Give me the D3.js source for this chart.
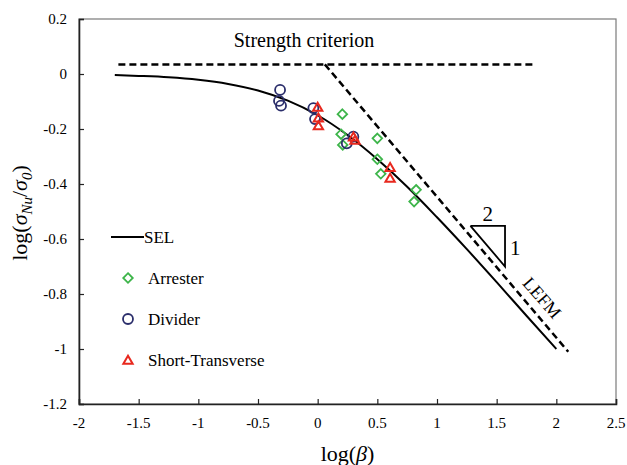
<!DOCTYPE html>
<html>
<head>
<meta charset="utf-8">
<script src="https://cdn.jsdelivr.net/npm/d3@7"></script>
<style>
  body { margin: 0; background: #fff; }
  svg text { font-family: "Liberation Serif", "Times New Roman", "DejaVu Serif", serif; fill: #000; }
</style>
</head>
<body>
<div id="chart"></div>
<script>
// size-effect data, log(beta) vs log(sigma_Nu / sigma_0)

const xTicks = [-2, -1.5, -1, -0.5, 0, 0.5, 1, 1.5, 2, 2.5];
const yTicks = [0.2, 0, -0.2, -0.4, -0.6, -0.8, -1, -1.2];

// SEL curve
const selX = [-1.7, -1.5, -1.25, -1, -0.75, -0.5, -0.25, 0, 0.25, 0.5, 0.75, 1, 1.25, 1.5, 1.75, 2];
const selY = [-0.004, -0.007, -0.012, -0.021, -0.036, -0.06, -0.097, -0.15, -0.222, -0.31, -0.41, -0.521, -0.637, -0.757, -0.879, -1.0];

// dashed asymptotes
const strengthX = [-1.67, 1.8];
const strengthY = [0.035, 0.035];
const lefmX = [0.06, 2.1];
const lefmY = [0.035, -1.01];

// slope triangle (2 : 1)
const triX = [1.28, 1.57, 1.57, 1.28];
const triY = [-0.552, -0.552, -0.70, -0.552];

const arresterX = [0.207, 0.196, 0.21, 0.5, 0.5, 0.529, 0.825, 0.808];
const arresterY = [-0.146, -0.219, -0.258, -0.234, -0.31, -0.363, -0.421, -0.464];

const dividerX = [-0.315, -0.324, -0.307, -0.036, -0.022, 0.244, 0.299];
const dividerY = [-0.058, -0.098, -0.115, -0.124, -0.164, -0.252, -0.228];

const shortX = [0.0, 0.006, 0.006, 0.3, 0.313, 0.607, 0.607];
const shortY = [-0.124, -0.163, -0.191, -0.232, -0.244, -0.343, -0.382];

const colors = { arrester: '#3db54a', divider: '#2b2e6b', short: '#e8281e' };
const serif = '"Liberation Serif", "Times New Roman", "DejaVu Serif", serif';

const W = 627, H = 465;
const margin = { top: 19, right: 11, bottom: 61, left: 79 };

const svg = d3.select('#chart').append('svg')
  .attr('width', W)
  .attr('height', H)
  .style('font-family', serif);

const x = d3.scaleLinear().domain([-2, 2.5]).range([margin.left, W - margin.right]);
const y = d3.scaleLinear().domain([-1.2, 0.2]).range([H - margin.bottom, margin.top]);

// frame: top and right in grey
svg.append('rect')
  .attr('x', x(-2)).attr('y', y(0.2))
  .attr('width', x(2.5) - x(-2)).attr('height', y(-1.2) - y(0.2))
  .attr('fill', 'none')
  .attr('stroke', '#7a7a7a')
  .attr('stroke-width', 1.2);

// axes, ticks pointing inward
const xAxis = svg.append('g')
  .attr('transform', `translate(0, ${y(-1.2)})`)
  .call(d3.axisTop(x).tickValues(xTicks).tickSize(5).tickFormat(''));
const yAxis = svg.append('g')
  .attr('transform', `translate(${x(-2)}, 0)`)
  .call(d3.axisRight(y).tickValues(yTicks).tickSize(5).tickFormat(''));

[xAxis, yAxis].forEach(g => {
  g.select('.domain').attr('stroke', '#222').attr('stroke-width', 1.6);
  g.selectAll('.tick line').attr('stroke', '#222').attr('stroke-width', 1.2);
});

// tick labels
svg.append('g').selectAll('text')
  .data(xTicks)
  .enter().append('text')
  .attr('x', d => x(d))
  .attr('y', y(-1.2) + 24)
  .attr('text-anchor', 'middle')
  .style('font-size', '15px')
  .text(d => d);

svg.append('g').selectAll('text')
  .data(yTicks)
  .enter().append('text')
  .attr('x', x(-2) - 12)
  .attr('y', d => y(d) + 5)
  .attr('text-anchor', 'end')
  .style('font-size', '15px')
  .text(d => d);

// axis titles
svg.append('text')
  .attr('x', (x(-2) + x(2.5)) / 2)
  .attr('y', 461)
  .attr('text-anchor', 'middle')
  .style('font-size', '22px')
  .html('log(<tspan font-style="italic">β</tspan>)');

svg.append('text')
  .attr('transform', 'translate(27, 213) rotate(-90)')
  .attr('text-anchor', 'middle')
  .style('font-size', '22px')
  .html('log(<tspan font-style="italic">σ</tspan><tspan font-style="italic" font-size="15px" dy="5">Nu</tspan>' +
        '<tspan dy="-5">/</tspan><tspan font-style="italic">σ</tspan>' +
        '<tspan font-style="italic" font-size="15px" dy="5">0</tspan><tspan dy="-5">)</tspan>');

const line = d3.line().x(d => x(d[0])).y(d => y(d[1]));

// strength criterion and LEFM
svg.append('path')
  .datum(d3.zip(strengthX, strengthY))
  .attr('d', line)
  .attr('fill', 'none')
  .attr('stroke', '#000')
  .attr('stroke-width', 2.5)
  .attr('stroke-dasharray', '7,4');

svg.append('path')
  .datum(d3.zip(lefmX, lefmY))
  .attr('d', line)
  .attr('fill', 'none')
  .attr('stroke', '#000')
  .attr('stroke-width', 2.5)
  .attr('stroke-dasharray', '7,4');

// SEL curve
svg.append('path')
  .datum(d3.zip(selX, selY))
  .attr('d', line.curve(d3.curveMonotoneX))
  .attr('fill', 'none')
  .attr('stroke', '#000')
  .attr('stroke-width', 2);

// slope triangle
svg.append('path')
  .datum(d3.zip(triX, triY))
  .attr('d', d3.line().x(d => x(d[0])).y(d => y(d[1])))
  .attr('fill', 'none')
  .attr('stroke', '#000')
  .attr('stroke-width', 1.8);

svg.append('text')
  .attr('x', x((triX[0] + triX[1]) / 2))
  .attr('y', y(triY[0]) - 5)
  .attr('text-anchor', 'middle')
  .style('font-size', '21px')
  .text('2');

svg.append('text')
  .attr('x', x(triX[1]) + 5)
  .attr('y', y((triY[1] + triY[2]) / 2) + 9)
  .style('font-size', '21px')
  .text('1');

svg.append('text')
  .attr('transform', `translate(${x(1.88)}, ${y(-0.814)}) rotate(49)`)
  .attr('text-anchor', 'middle')
  .attr('dominant-baseline', 'central')
  .style('font-size', '18px')
  .text('LEFM');

svg.append('text')
  .attr('x', 304)
  .attr('y', 47)
  .attr('text-anchor', 'middle')
  .style('font-size', '20px')
  .text('Strength criterion');

// markers
const diamond = d3.symbol().type(d3.symbolDiamond2).size(58);
const triangle = d3.symbol().type(d3.symbolTriangle2).size(62);

svg.append('g').selectAll('path')
  .data(d3.zip(arresterX, arresterY))
  .enter().append('path')
  .attr('d', diamond)
  .attr('transform', d => `translate(${x(d[0])}, ${y(d[1])})`)
  .attr('fill', 'none')
  .attr('stroke', colors.arrester)
  .attr('stroke-width', 1.8);

svg.append('g').selectAll('circle')
  .data(d3.zip(dividerX, dividerY))
  .enter().append('circle')
  .attr('cx', d => x(d[0]))
  .attr('cy', d => y(d[1]))
  .attr('r', 5)
  .attr('fill', 'none')
  .attr('stroke', colors.divider)
  .attr('stroke-width', 1.8);

svg.append('g').selectAll('path')
  .data(d3.zip(shortX, shortY))
  .enter().append('path')
  .attr('d', triangle)
  .attr('transform', d => `translate(${x(d[0])}, ${y(d[1])})`)
  .attr('fill', 'none')
  .attr('stroke', colors.short)
  .attr('stroke-width', 2);

// legend
const lg = svg.append('g');
lg.append('line')
  .attr('x1', 111).attr('x2', 144)
  .attr('y1', 237).attr('y2', 237)
  .attr('stroke', '#000').attr('stroke-width', 2);
lg.append('text').attr('x', 144).attr('y', 243).style('font-size', '17px').text('SEL');

lg.append('path').attr('d', diamond)
  .attr('transform', 'translate(128, 278)')
  .attr('fill', 'none').attr('stroke', colors.arrester).attr('stroke-width', 1.8);
lg.append('text').attr('x', 148).attr('y', 284).style('font-size', '17px').text('Arrester');

lg.append('circle').attr('cx', 128).attr('cy', 319).attr('r', 5)
  .attr('fill', 'none').attr('stroke', colors.divider).attr('stroke-width', 1.8);
lg.append('text').attr('x', 148).attr('y', 325).style('font-size', '17px').text('Divider');

lg.append('path').attr('d', triangle)
  .attr('transform', 'translate(128, 361)')
  .attr('fill', 'none').attr('stroke', colors.short).attr('stroke-width', 2);
lg.append('text').attr('x', 148).attr('y', 366).style('font-size', '17px').text('Short-Transverse');
</script>
</body>
</html>
